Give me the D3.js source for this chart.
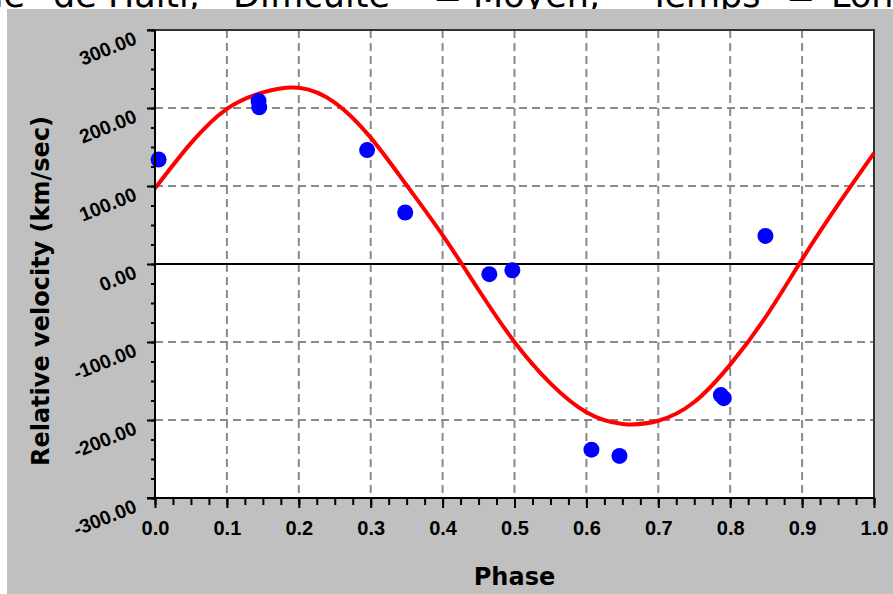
<!DOCTYPE html>
<meta charset="utf-8">
<style>
body { margin: 0; background: #fff; }
svg { display: block; }
.title { font-family: "DejaVu Sans", Verdana, sans-serif; font-size: 35px; fill: #000; }
.xaxis text { font-family: "Liberation Sans", Arial, sans-serif; font-size: 20px; font-weight: bold; fill: #000; }
.yaxis text { font-family: "Liberation Sans", Arial, sans-serif; font-size: 19.5px; font-weight: bold; fill: #000; }
.axis-title { font-family: "DejaVu Sans", Verdana, sans-serif; font-size: 24px; font-weight: bold; fill: #000; }
.grid line { stroke: #8a8a8a; stroke-width: 2; stroke-dasharray: 8,5; }
</style>
<svg width="893" height="594"></svg>
<script src="https://d3js.org/d3.v7.min.js"></script>
<script>

// fitted radial velocity curve, every 0.05 in phase
var curvePhase = [0, 0.05, 0.1, 0.15, 0.2, 0.25, 0.3, 0.35, 0.4, 0.45, 0.5,
                  0.55, 0.6, 0.65, 0.7, 0.75, 0.8, 0.85, 0.9, 0.95, 1.0];
var curveVel = [97, 155, 199, 220, 226, 207, 162, 101, 37, -33, -100,
                -153, -190, -205, -201, -177, -129, -67, 6, 76, 142];

// measured points
var obsPhase = [0.005, 0.144, 0.145, 0.295, 0.348, 0.465, 0.497, 0.607, 0.646, 0.787, 0.791, 0.849];
var obsVel = [134, 209, 201, 146, 66, -13, -8, -238, -246, -168, -172, 36];

var xTicks = [0, 0.1, 0.2, 0.3, 0.4, 0.5, 0.6, 0.7, 0.8, 0.9, 1.0];
var yTicks = [-300, -200, -100, 0, 100, 200, 300];

var svg = d3.select("svg"),
    width = +svg.attr("width"),
    height = +svg.attr("height");

var plotL = 155, plotR = 874, plotT = 30, plotB = 498;

var x = d3.scaleLinear().domain([0, 1]).range([plotL, plotR]);
var y = d3.scaleLinear().domain([-300, 300]).range([plotB, plotT]);

// header line, mostly cut off by the top of the window
var head = svg.append("g").attr("class", "title");
head.append("text").attr("x", 25).attr("y", 7).attr("text-anchor", "end").text("de");
[["de Haiti,", 53], ["Difficulté", 233], ["=", 433], ["Moyen,", 473],
 ["Temps", 649], ["=", 786], ["Long", 831]].forEach(function(t) {
  head.append("text").attr("x", t[1]).attr("y", 7).text(t[0]);
});

// grey panel
svg.append("rect")
    .attr("x", 7).attr("y", 9)
    .attr("width", width - 7).attr("height", height - 9)
    .attr("fill", "#c0c0c0");

svg.append("rect")
    .attr("x", plotL).attr("y", plotT)
    .attr("width", plotR - plotL).attr("height", plotB - plotT)
    .attr("fill", "#fff");

// dashed grid
var grid = svg.append("g").attr("class", "grid");
grid.selectAll(".gx")
  .data(xTicks.filter(function(d) { return d > 0 && d < 1; }))
  .enter().append("line")
    .attr("x1", function(d) { return x(d); })
    .attr("x2", function(d) { return x(d); })
    .attr("y1", plotT).attr("y2", plotB);
grid.selectAll(".gy")
  .data(yTicks.filter(function(d) { return d != 0 && Math.abs(d) < 300; }))
  .enter().append("line")
    .attr("y1", function(d) { return y(d); })
    .attr("y2", function(d) { return y(d); })
    .attr("x1", plotL).attr("x2", plotR);

// zero line
svg.append("line")
    .attr("x1", plotL).attr("x2", plotR)
    .attr("y1", y(0)).attr("y2", y(0))
    .attr("stroke", "#000").attr("stroke-width", 2);

// frame
svg.append("path")
    .attr("d", "M" + (plotL - 8) + "," + plotT + "H" + plotR + "V" + plotB)
    .attr("fill", "none").attr("stroke", "#333").attr("stroke-width", 2);

// curve
var line = d3.line()
    .x(function(d, i) { return x(curvePhase[i]); })
    .y(function(d) { return y(d); })
    .curve(d3.curveNatural);

svg.append("path")
    .datum(curveVel)
    .attr("d", line)
    .attr("fill", "none")
    .attr("stroke", "#ff0000")
    .attr("stroke-width", 4)
    .attr("stroke-linejoin", "round");

// points
svg.append("g").selectAll("circle")
  .data(obsVel)
  .enter().append("circle")
    .attr("cx", function(d, i) { return x(obsPhase[i]); })
    .attr("cy", function(d) { return y(d); })
    .attr("r", 8)
    .attr("fill", "#0000ff");

// minor ticks
var xMinor = d3.range(0, 41).map(function(i) { return i / 40; });
var yMinor = d3.range(-12, 13).map(function(i) { return i * 25; });

svg.append("g")
    .attr("transform", "translate(0," + plotB + ")")
    .call(d3.axisBottom(x).tickValues(xMinor).tickSize(7).tickFormat(""))
    .call(function(g) { g.select(".domain").remove(); })
    .selectAll("line").attr("stroke", "#000").attr("stroke-width", 2);

svg.append("g")
    .attr("transform", "translate(" + plotL + ",0)")
    .call(d3.axisLeft(y).tickValues(yMinor).tickSize(4).tickFormat(""))
    .call(function(g) { g.select(".domain").remove(); })
    .selectAll("line").attr("stroke", "#000").attr("stroke-width", 2);

// major axes
var xAxis = svg.append("g")
    .attr("class", "xaxis")
    .attr("transform", "translate(0," + plotB + ")")
    .call(d3.axisBottom(x).tickValues(xTicks).tickSize(10)
      .tickFormat(function(d) { return d.toFixed(1); }));
xAxis.select(".domain").remove();
xAxis.selectAll("line").attr("stroke", "#000").attr("stroke-width", 2);
xAxis.selectAll("text").attr("y", 37).attr("dy", null);

var yAxis = svg.append("g")
    .attr("class", "yaxis")
    .attr("transform", "translate(" + plotL + ",0)")
    .call(d3.axisLeft(y).tickValues(yTicks).tickSize(8)
      .tickFormat(function(d) { return d.toFixed(2); }));
yAxis.select(".domain").remove();
yAxis.selectAll("line").attr("stroke", "#000").attr("stroke-width", 2);
yAxis.selectAll("text")
    .attr("x", null).attr("dy", null)
    .attr("text-anchor", "end")
    .attr("transform", "translate(-17,13) rotate(-22)");

// axis lines
svg.append("line")
    .attr("x1", plotL).attr("x2", plotL)
    .attr("y1", plotT).attr("y2", plotB + 1)
    .attr("stroke", "#000").attr("stroke-width", 2);
svg.append("line")
    .attr("x1", plotL - 8).attr("x2", plotR + 1)
    .attr("y1", plotB).attr("y2", plotB)
    .attr("stroke", "#000").attr("stroke-width", 2);

// axis titles
svg.append("text")
    .attr("class", "axis-title")
    .attr("x", (plotL + plotR) / 2).attr("y", 585)
    .attr("text-anchor", "middle")
    .text("Phase");

svg.append("text")
    .attr("class", "axis-title")
    .attr("text-anchor", "middle")
    .attr("transform", "translate(49,291) rotate(-90)")
    .text("Relative velocity (km/sec)");

</script>
